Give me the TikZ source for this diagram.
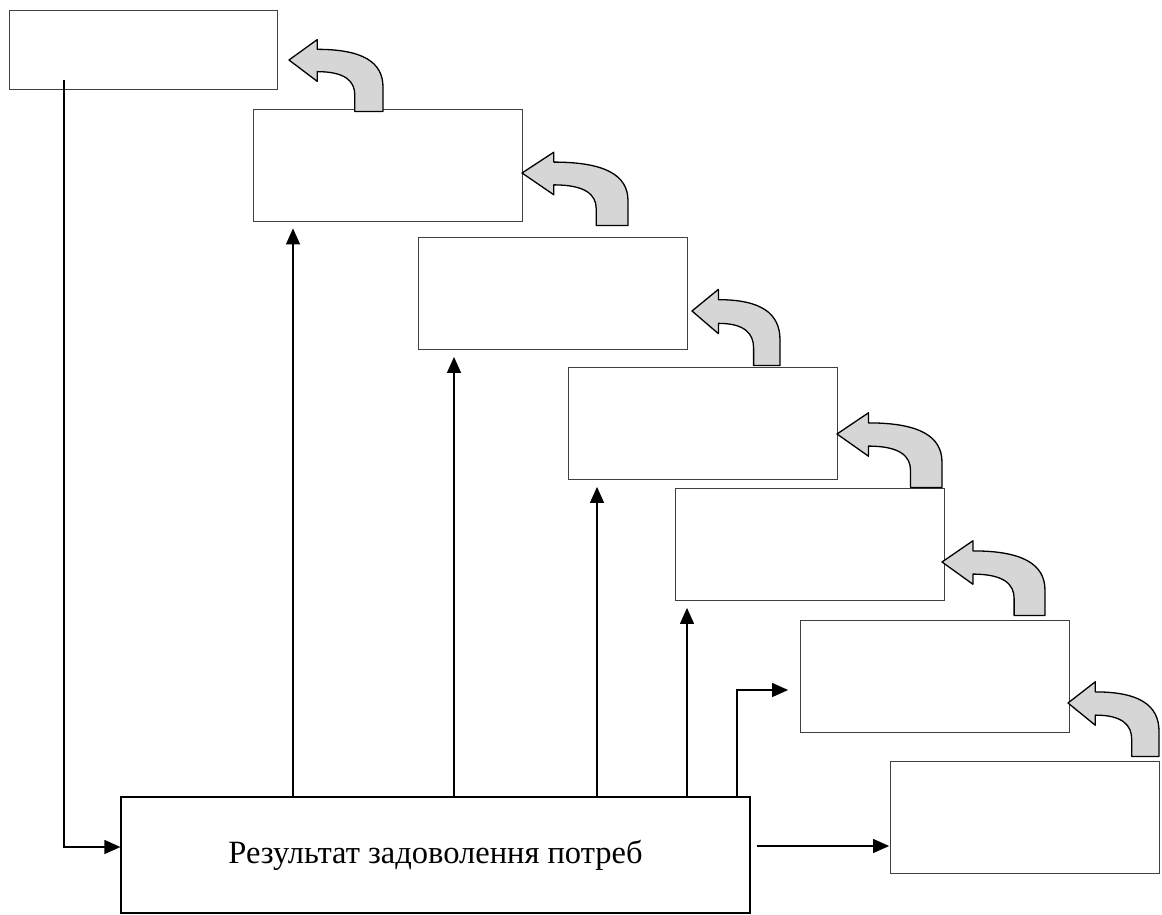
\documentclass[tikz,border=0pt]{standalone}
\usepackage{fontspec}
\setmainfont{Liberation Serif}
\usetikzlibrary{arrows.meta}

\begin{document}
\begin{tikzpicture}[x=1pt,y=-1pt,
  stage/.style={draw=black!75,line width=0.8pt,minimum width=269pt,minimum height=112pt,inner sep=0pt},
  arr/.style={line width=1.2pt,-{Triangle[length=16pt,width=14pt]}},
  bentarrow/.pic={\draw[line width=1.3pt,fill=black!16,line join=round] (0,0) -- (30,-21) -- (30,-11) .. controls (78,-11) and (100,2) .. (100,28) -- (100,53) -- (70,53) -- (70,36) .. controls (70,22) and (60,12) .. (30,12) -- (30,22) -- cycle;}]
\useasboundingbox (0,0) rectangle (1162,915);
% stages
\node[stage,minimum width=268pt,minimum height=79pt] (b1) at (143,49.5) {};
\node[stage] (b2) at (387.5,165) {};
\node[stage] (b3) at (553,293.5) {};
\node[stage] (b4) at (702.5,423.5) {};
\node[stage] (b5) at (809.5,544.5) {};
\node[stage] (b6) at (935,676) {};
\node[stage] (b7) at (1025,817) {};
\node[draw,line width=1.2pt,minimum width=629pt,minimum height=116pt,inner sep=0pt,font=\fontsize{32.5}{36}\selectfont] (res) at (435.5,855) {Результат задоволення потреб};
% curved arrows
\pic[xscale=0.94,yscale=0.97] at (289,60) {bentarrow};
\pic[xscale=1.06,yscale=0.99] at (522,173) {bentarrow};
\pic[xscale=0.88,yscale=1.03] at (692,311) {bentarrow};
\pic[xscale=1.05,yscale=1.01] at (837,434) {bentarrow};
\pic[xscale=1.03,yscale=1.01] at (942,562) {bentarrow};
\pic[xscale=0.91,yscale=1.01] at (1068,703) {bentarrow};
% connectors
\coordinate (src) at (64,80);
\coordinate (up2) at (293,0);
\coordinate (up3) at (454,0);
\coordinate (up4) at (597,0);
\coordinate (up5) at (687,0);
\coordinate (up6) at (737,0);
\draw[arr] (src) |- ([yshift=8pt]res.west);
\draw[arr,shorten >=7pt] (res.north -| up2) -- (b2.south -| up2);
\draw[arr,shorten >=7pt] (res.north -| up3) -- (b3.south -| up3);
\draw[arr,shorten >=7pt] (res.north -| up4) -- (b4.south -| up4);
\draw[arr,shorten >=7pt] (res.north -| up5) -- (b5.south -| up5);
\draw[arr,shorten >=12pt] (res.north -| up6) |- ([yshift=-14pt]b6.west);
\draw[arr,shorten <=6pt,shorten >=1pt] ([yshift=9pt]res.east) -- ([yshift=9pt]res.east -| b7.west);
\end{tikzpicture}
\end{document}
